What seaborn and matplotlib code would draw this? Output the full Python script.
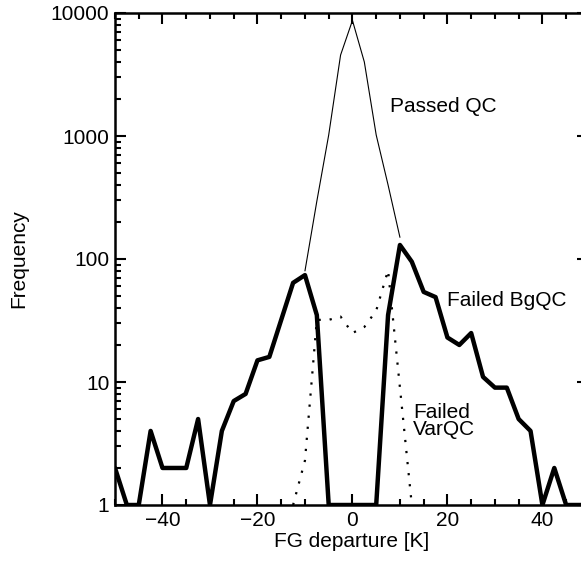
import numpy as np
import pandas as pd
import matplotlib
matplotlib.use("Agg")
import matplotlib.pyplot as plt
import matplotlib.ticker as mticker
import seaborn as sns

# FG departure bins [K]
dep_bg = [-50, -47.5, -45, -42.5, -40, -37.5, -35, -32.5, -30, -27.5, -25, -22.5,
          -20, -17.5, -15, -12.5, -10, -7.5, -5, -2.5, 0, 2.5, 5, 7.5, 10, 12.5,
          15, 17.5, 20, 22.5, 25, 27.5, 30, 32.5, 35, 37.5, 40, 42.5, 45, 47.5, 50]
failed_bgqc = [2, 1, 1, 4, 2, 2, 2, 5, 1, 4, 7, 8,
               15, 16, 32, 64, 74, 35, 1, 1, 1, 1, 1, 35, 130, 95,
               54, 49, 23, 20, 25, 11, 9, 9, 5, 4, 1, 2, 1, 1, 1]

dep_pass = [-10, -7.5, -5, -2.5, 0, 2.5, 5, 7.5, 10]
passed_qc = [80, 295, 1020, 4550, 8700, 4000, 1020, 400, 150]

dep_var = [-12.5, -10, -7.5, -5, -2.5, 0, 2.5, 5, 7.5, 10, 12.5]
failed_varqc = [1, 2.3, 32, 32, 34, 25, 28, 38, 81, 9, 1]

sns.set_style("ticks", {"axes.edgecolor": "black", "text.color": "black",
                        "xtick.color": "black", "ytick.color": "black",
                        "axes.labelcolor": "black"})
plt.rcParams["font.family"] = ["Liberation Sans", "DejaVu Sans"]
plt.rcParams["xtick.direction"] = "in"
plt.rcParams["ytick.direction"] = "in"

fig = plt.figure(figsize=(5.81, 5.65), dpi=100)
# right spine sits just outside the picture, as in the original crop
ax = fig.add_axes([115 / 581, 60 / 565, 473 / 581, 492 / 565])

df_bg = pd.DataFrame({"dep": dep_bg, "freq": failed_bgqc})
df_pass = pd.DataFrame({"dep": dep_pass, "freq": passed_qc})
df_var = pd.DataFrame({"dep": dep_var, "freq": failed_varqc})

sns.lineplot(data=df_pass, x="dep", y="freq", ax=ax, color="black", lw=0.8, sort=False)
sns.lineplot(data=df_var, x="dep", y="freq", ax=ax, color="black", lw=1.6,
             linestyle=(0, (1, 4)), sort=False)
sns.lineplot(data=df_bg, x="dep", y="freq", ax=ax, color="black", lw=3.2, sort=False)

ax.set_yscale("log")
ax.set_xlim(-50, 49.6)
ax.set_ylim(1, 10000)

ax.set_xticks([-40, -20, 0, 20, 40])
ax.xaxis.set_minor_locator(mticker.MultipleLocator(5))
ax.set_yticks([1, 10, 100, 1000, 10000])
ax.set_yticklabels(["1", "10", "100", "1000", "10000"])
ax.yaxis.set_minor_locator(mticker.LogLocator(base=10, subs=np.arange(2, 10)))
ax.yaxis.set_minor_formatter(mticker.NullFormatter())

ax.tick_params(which="both", top=True, right=True, labelsize=15, width=1.5, pad=4,
               colors="black")
ax.tick_params(which="major", length=8)
ax.tick_params(which="minor", length=4)
for s in ax.spines.values():
    s.set_linewidth(1.8)
    s.set_color("black")
    s.set_visible(True)

ax.set_xlabel("FG departure [K]", fontsize=15, labelpad=2, color="black")
ax.set_ylabel("Frequency", fontsize=15, labelpad=16, color="black")

ax.text(8, 1750, "Passed QC", fontsize=15, va="center", ha="left")
ax.text(20, 46, "Failed BgQC", fontsize=15, va="center", ha="left")
ax.text(12.8, 4.8, "Failed\nVarQC", fontsize=15, va="center", ha="left", linespacing=0.85)

fig.savefig("out.png", dpi=100)
